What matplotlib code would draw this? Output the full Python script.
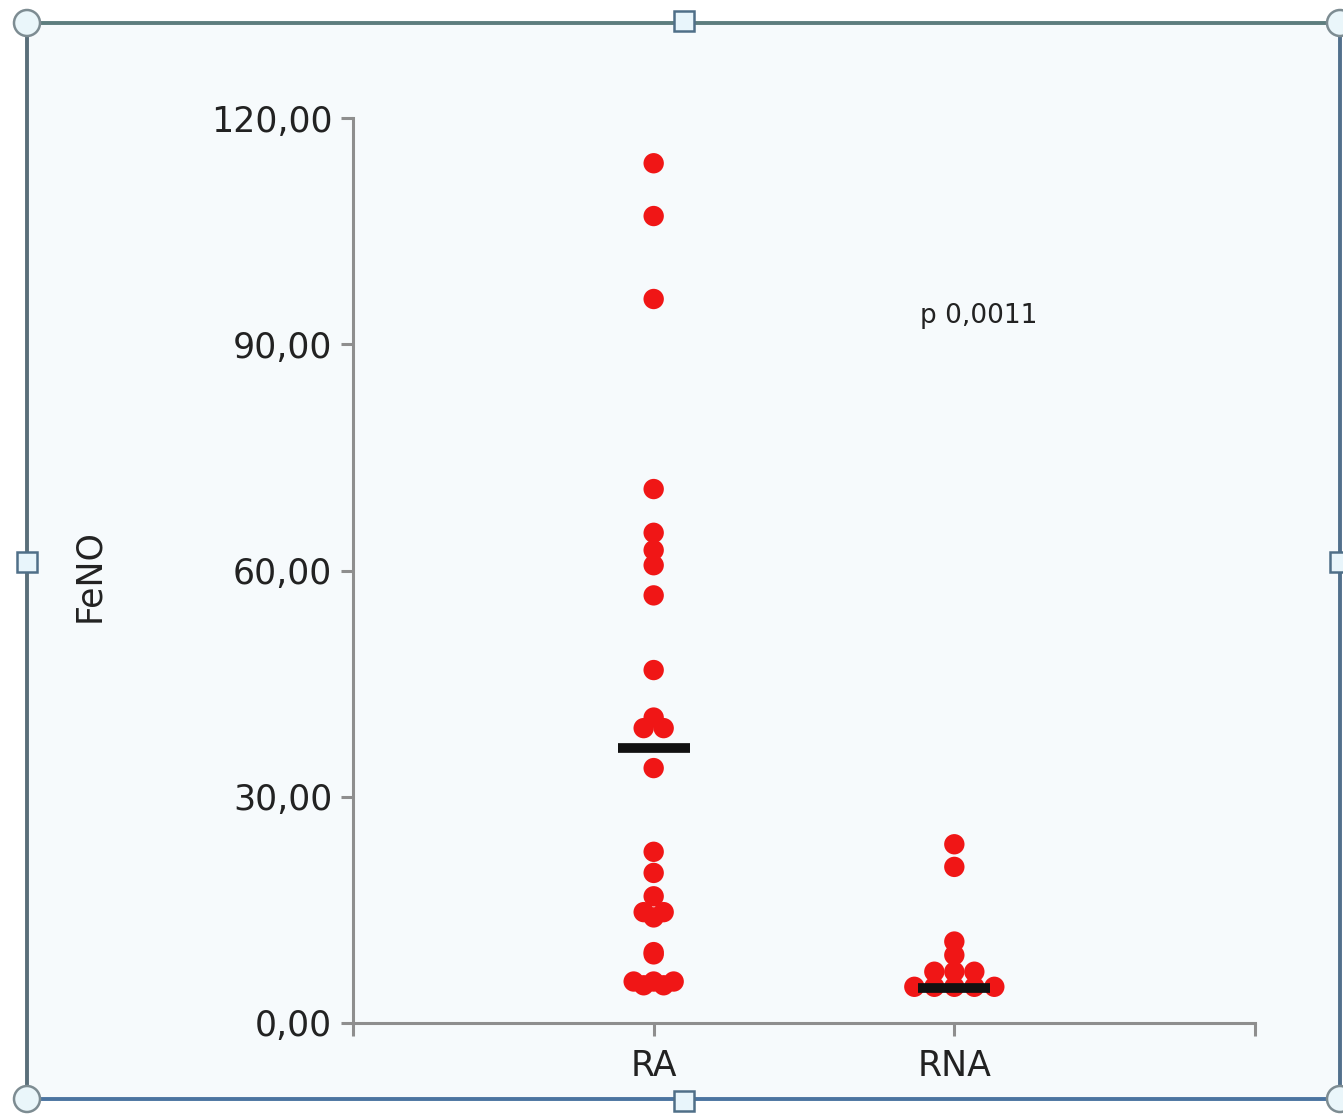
import numpy as np
import matplotlib
matplotlib.use("Agg")
import matplotlib.pyplot as plt
from matplotlib.patches import Rectangle, Circle

# valores de FeNO por grupo
grupos = ["RA", "RNA"]
feno_ra = [114.0, 107.0, 96.0, 70.8, 65.0, 62.7, 60.7, 56.7, 46.8, 40.5,
           39.1, 39.1, 33.8, 22.7, 19.9, 16.8, 14.7, 14.7, 14.0, 9.4, 9.1,
           5.5, 5.5, 5.5, 5.0, 5.0]
feno_rna = [23.7, 20.7, 10.8, 9.0, 6.8, 6.8, 6.8, 4.8, 4.8, 4.8, 4.8, 4.8]
linea_central = [36.5, 4.6]
texto_p = "p 0,0011"

W, H = 1343, 1115
fig = plt.figure(figsize=(W / 100, H / 100), dpi=100, facecolor="white")

# marco de seleccion con sus tiradores
fondo = fig.add_axes([0, 0, 1, 1], zorder=-1)
fondo.set_xlim(0, W)
fondo.set_ylim(H, 0)
fondo.axis("off")
fondo.add_patch(Rectangle((27, 23), 1313, 1076, facecolor="#f6fafc",
                          edgecolor="none"))
fondo.plot([27, 1340], [23, 23], color="#5d7d7e", lw=2.8)
fondo.plot([27, 27], [23, 1099], color="#5a6f7a", lw=2.8)
fondo.plot([1340, 1340], [23, 1099], color="#52708c", lw=2.8)
fondo.plot([27, 1340], [1099, 1099], color="#4b74a0", lw=2.8)
for cx, cy in [(27, 23), (1340, 23), (27, 1099), (1340, 1099)]:
    fondo.add_patch(Circle((cx, cy), 13, facecolor="#eaf6fa",
                           edgecolor="#7d8c92", lw=1.8, zorder=3))
for cx, cy in [(684, 21), (684, 1101), (27, 562), (1340, 562)]:
    fondo.add_patch(Rectangle((cx - 10, cy - 10), 20, 20, facecolor="#e8f5fb",
                              edgecolor="#4f6f88", lw=1.8, zorder=3))

ax = fig.add_axes([353 / W, 92 / H, 902 / W, 905 / H])
ax.set_facecolor("none")
ax.set_xlim(0, 3)
ax.set_ylim(0, 120)

gris = "#8e8e8e"
for s in ["top", "right"]:
    ax.spines[s].set_visible(False)
for s in ["left", "bottom"]:
    ax.spines[s].set_color(gris)
    ax.spines[s].set_linewidth(2.2)
ax.tick_params(colors=gris, width=2.2, length=9, labelcolor="#222222",
               labelsize=25)
ax.tick_params(axis="x", pad=10)
ax.tick_params(axis="y", pad=6)

ax.set_yticks([0, 30, 60, 90, 120])
ax.set_yticklabels([f"{v:.2f}".replace(".", ",") for v in [0, 30, 60, 90, 120]])
ax.set_xticks([0, 1, 2, 3])
ax.set_xticklabels([""] + grupos + [""])

# puntos: los valores repetidos se reparten en fila
paso = 0.0665
for i, valores in enumerate([feno_ra, feno_rna], start=1):
    valores = np.array(valores)
    xs, ys = [], []
    for v in np.unique(valores):
        n = np.sum(valores == v)
        desp = (np.arange(n) - (n - 1) / 2) * paso
        xs.extend(i + desp)
        ys.extend([v] * n)
    ax.scatter(xs, ys, s=215, color="#f01616", edgecolors="none",
               zorder=3, clip_on=False)
    ax.hlines(linea_central[i - 1], i - 0.12, i + 0.12, color="#111111",
              lw=7, zorder=4, capstyle="butt")

ax.text(2.08, 93.7, texto_p, ha="center", va="center", fontsize=19,
        color="#222222")

ax.set_ylabel("FeNO", fontsize=25, color="#222222")
ax.yaxis.set_label_coords(-0.274, 0.495)

fig.savefig("out.png", dpi=100, facecolor="white")
